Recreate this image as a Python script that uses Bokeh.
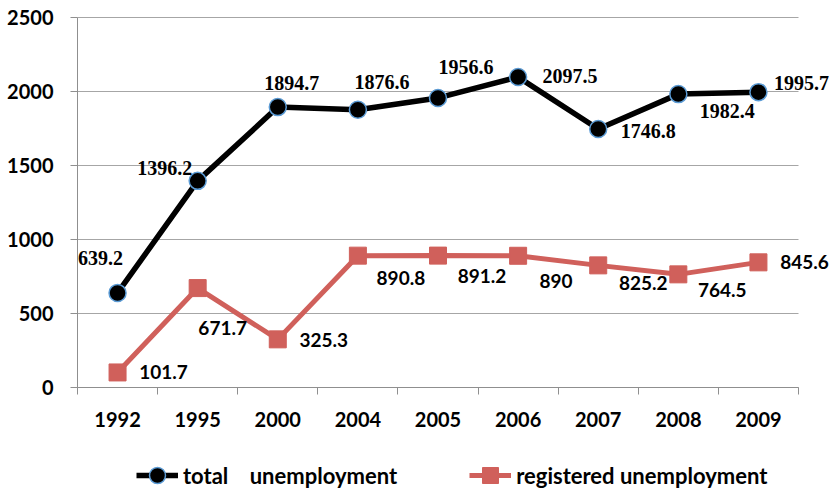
from bokeh.plotting import figure
from bokeh.models import (ColumnDataSource, Label, Legend, LegendItem,
                          FixedTicker, Range1d, LinearAxis, Grid)
from bokeh.embed import file_html
from bokeh.resources import INLINE

# ---- data ----
years = ["1992", "1995", "2000", "2004", "2005", "2006", "2007", "2008", "2009"]
total_unemployment = [639.2, 1396.2, 1894.7, 1876.6, 1956.6, 2097.5, 1746.8, 1982.4, 1995.7]
registered_unemployment = [101.7, 671.7, 325.3, 890.8, 891.2, 890, 825.2, 764.5, 845.6]
y_ticks = [0, 500, 1000, 1500, 2000, 2500]

# ---- label placement (screen px offsets) ----
total_dx = [-17, -33, 14, 24, 28, 52, 50, 49, 43]
total_dy = [35, 13, 24, 28, 31, 1, -2, -17, 9]
reg_dx = [46, 25, 46, 43, 44, 38, 45, 44, 46]
reg_dy = [0, -40, -1, -22, -20, -25, -18, -16, 0]

n = len(years)
xpos = list(range(n))
x_lo, x_hi = -0.5, n - 0.5

# ---- canvas / frame geometry (px) ----
W, H = 831, 490
PL, PR, PT, PB = 77, 798, 17, 387          # plot area edges
ux = (PR - PL) / (x_hi - x_lo)             # px per category
uy = (PB - PT) / (y_ticks[-1] - y_ticks[0])  # px per unit
xr = Range1d(x_lo - PL / ux, x_hi + (W - PR) / ux)
yr = Range1d(y_ticks[0] - (H - PB) / uy, y_ticks[-1] + PT / uy)

src_t = ColumnDataSource(dict(x=xpos, y=total_unemployment))
src_r = ColumnDataSource(dict(x=xpos, y=registered_unemployment))

p = figure(width=W, height=H, output_backend="svg", toolbar_location=None,
           x_range=xr, y_range=yr, x_axis_location=None, y_axis_location=None,
           min_border=0)
p.outline_line_color = None
p.background_fill_color = "white"
p.border_fill_color = "white"
p.grid.visible = False

GRAY = "#a6a6a6"
AX = "#8f8f8f"

# grid lines
yticker = FixedTicker(ticks=y_ticks)
if "cross_bounds" in Grid.properties():
    grid = Grid(dimension=1, ticker=yticker, grid_line_color=GRAY, grid_line_width=1)
    grid.bounds = (y_ticks[0], y_ticks[-1])
    grid.cross_bounds = (x_lo, x_hi)
    p.add_layout(grid)
else:
    p.segment(x0=x_lo, x1=x_hi, y0=y_ticks, y1=y_ticks, line_color=GRAY, line_width=1,
              level="underlay")

# y axis
yaxis = LinearAxis(ticker=yticker, fixed_location=x_lo, bounds=(y_ticks[0], y_ticks[-1]))
yaxis.axis_line_color = AX
yaxis.major_tick_line_color = AX
yaxis.major_tick_out = 7
yaxis.major_tick_in = 0
yaxis.minor_tick_line_color = None
yaxis.major_label_standoff = 17
yaxis.major_label_text_font = "Lato"
yaxis.major_label_text_font_style = "bold"
yaxis.major_label_text_font_size = "20px"
yaxis.major_label_text_color = "black"
p.add_layout(yaxis, "left")

# x axis: labels at category centres, tick marks at category boundaries
xaxis = LinearAxis(ticker=FixedTicker(ticks=xpos, minor_ticks=[i - 0.5 for i in range(n + 1)]),
                   fixed_location=y_ticks[0], bounds=(x_lo, x_hi))
xaxis.major_label_overrides = {i: y for i, y in zip(xpos, years)}
xaxis.axis_line_color = AX
xaxis.major_tick_out = 0
xaxis.major_tick_in = 0
xaxis.minor_tick_out = 7
xaxis.minor_tick_in = 0
xaxis.minor_tick_line_color = AX
xaxis.major_label_standoff = 17
xaxis.major_label_text_font = "Lato"
xaxis.major_label_text_font_style = "bold"
xaxis.major_label_text_font_size = "20px"
xaxis.major_label_text_color = "black"
p.add_layout(xaxis, "below")

RED = "#d0605b"

rl = p.line("x", "y", source=src_r, line_color=RED, line_width=5)
rs = p.scatter("x", "y", source=src_r, marker="square", size=17,
               fill_color=RED, line_color=RED)
bl = p.line("x", "y", source=src_t, line_color="black", line_width=5.5)
bc = p.scatter("x", "y", source=src_t, marker="circle", size=17,
               fill_color="black", line_color="#5b9bd5", line_width=1.5)

for xi, v, dx, dy in zip(xpos, total_unemployment, total_dx, total_dy):
    p.add_layout(Label(x=xi, y=v, text=f"{v:g}", x_offset=dx, y_offset=dy,
                       text_font="Liberation Serif", text_font_style="bold",
                       text_font_size="20px", text_color="black",
                       text_align="center", text_baseline="middle"))
for xi, v, dx, dy in zip(xpos, registered_unemployment, reg_dx, reg_dy):
    p.add_layout(Label(x=xi, y=v, text=f"{v:g}", x_offset=dx, y_offset=dy,
                       text_font="Lato", text_font_style="bold",
                       text_font_size="19px", text_color="black",
                       text_align="center", text_baseline="middle"))

legend = Legend(items=[
    LegendItem(label="total\u00a0\u00a0\u00a0\u00a0unemployment", renderers=[bl, bc]),
    LegendItem(label="registered unemployment", renderers=[rl, rs]),
], orientation="horizontal", location=(136, -5),
    glyph_width=42, glyph_height=40, label_standoff=5, spacing=72,
    border_line_color=None, background_fill_alpha=0,
    label_text_font="Lato", label_text_font_style="bold",
    label_text_font_size="22px", label_text_color="black",
    padding=0, margin=0)
p.add_layout(legend)

open("out.html", "w").write(file_html(p, INLINE))
